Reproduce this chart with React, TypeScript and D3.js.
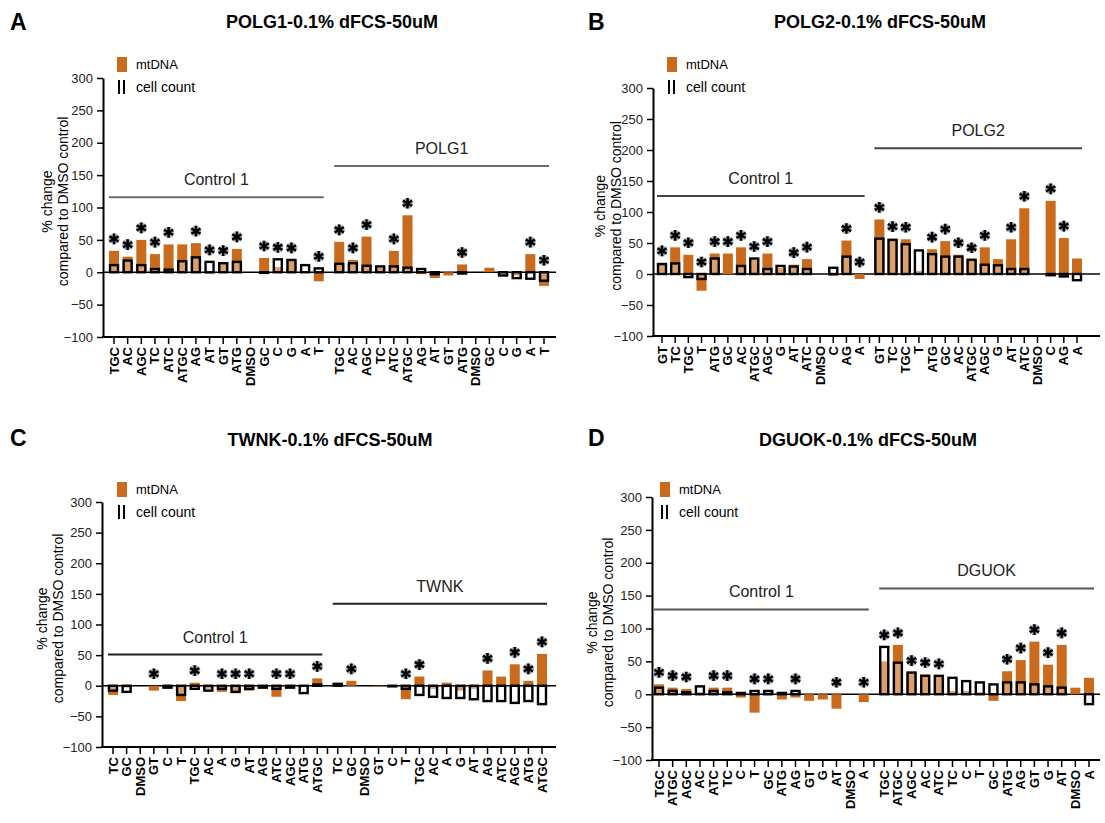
import React, { useEffect, useRef } from "react";
import * as d3 from "d3";

// x labels (one group, repeated for control and knockdown)
const labelsA = ["TGC", "AC", "AGC", "TC", "ATC", "ATGC", "AG", "AT", "GT", "ATG", "DMSO", "GC", "C", "G", "A", "T"];
const labelsB = ["GT", "TC", "TGC", "T", "ATG", "GC", "AC", "ATGC", "AGC", "G", "AT", "ATC", "DMSO", "C", "AG", "A"];
const labelsC = ["TC", "GC", "DMSO", "GT", "C", "T", "TGC", "AC", "A", "G", "AT", "AG", "ATC", "AGC", "ATG", "ATGC"];
const labelsD = ["TGC", "ATGC", "AGC", "AC", "ATC", "TC", "C", "T", "GC", "ATG", "AG", "GT", "G", "AT", "DMSO", "A"];

// % change vs DMSO: mtDNA, cell count, significance
const mtA = [33, 24, 50, 28, 43, 43, 45, -2, 15, 36, 0, 22, 8, 18, 2, -14,
  47, 19, 55, 7, 33, 88, -3, -9, -5, 12, 0, 7, -3, -5, 28, -21];
const cellA = [11, 18, 11, 5, 4, 17, 23, 16, 14, 16, 0, -1, 20, 19, 11, 6,
  13, 14, 10, 9, 9, 7, 5, -3, 0, -2, 0, 0, -5, -9, -10, -13];
const starA = [1, 1, 1, 1, 1, 0, 1, 1, 1, 1, 0, 1, 1, 1, 0, 1,
  1, 1, 1, 0, 1, 1, 0, 0, 0, 1, 0, 0, 0, 0, 1, 1];

const mtB = [18, 43, 31, -27, 33, 33, 43, 25, 33, 10, 15, 24, 0, -3, 54, -8,
  88, 57, 56, 5, 40, 53, 31, 21, 43, 24, 56, 106, 0, 118, 58, 25];
const cellB = [16, 17, -5, -8, 25, 0, 13, 25, 8, 13, 12, 8, 0, 10, 28, 0,
  57, 55, 48, 38, 32, 28, 28, 23, 15, 14, 8, 8, 0, -2, -4, -10];
const starB = [1, 1, 1, 1, 1, 1, 1, 1, 1, 0, 1, 1, 0, 0, 1, 1,
  1, 1, 1, 0, 1, 1, 1, 1, 1, 0, 1, 1, 0, 1, 1, 0];

const mtC = [-15, -3, 0, -8, -5, -25, 5, -5, -10, -12, -8, -5, -18, -5, 0, 12,
  5, 8, 0, -1, -2, -22, 15, -5, 5, -8, -5, 25, 15, 35, 8, 52];
const cellC = [-8, -10, 0, 0, -3, -15, -5, -8, -5, -10, -5, -3, -5, -3, -12, 2,
  3, 0, 0, 0, -1, -5, -15, -18, -20, -20, -22, -25, -25, -28, -25, -30];
const starC = [0, 0, 0, 1, 0, 0, 1, 0, 1, 1, 1, 0, 1, 1, 0, 1,
  0, 1, 0, 0, 0, 1, 1, 0, 0, 0, 0, 1, 0, 1, 1, 1];

const mtD = [15, 10, 8, 3, 10, 10, -5, -28, 3, -8, -5, -10, -8, -22, 0, -12,
  50, 75, 33, 30, 28, 5, 5, 3, -10, 35, 52, 80, 45, 75, 10, 25];
const cellD = [10, 5, 3, 12, 5, 3, 2, 5, 5, 2, 5, 0, 0, 0, 0, 0,
  72, 48, 33, 28, 28, 25, 20, 18, 15, 18, 18, 15, 12, 10, 0, -15];
const starD = [1, 1, 1, 0, 1, 1, 0, 1, 1, 0, 1, 0, 0, 1, 0, 1,
  1, 1, 1, 1, 1, 0, 0, 0, 0, 1, 1, 1, 1, 1, 0, 0];

const yTicks = [-100, -50, 0, 50, 100, 150, 200, 250, 300];

const ORANGE = "#c96a1d";
const FONT = "'Liberation Sans', Arial, sans-serif";

const panels = [
  { letter: "A", title: "POLG1-0.1% dFCS-50uM", lx: 10, ly: 30, tx: 332, ty: 28,
    axisX: 103, xEnd: 556, yTop: 78, yBottom: 337, xFirst: 114, xLast: 544,
    groups: ["Control 1", "POLG1"], bracket: [116, 164], legX: 117, legY: 57, ytX: 52,
    labels: labelsA, mt: mtA, cell: cellA, star: starA, bracketColor: "#6b6b6b" },
  { letter: "B", title: "POLG2-0.1% dFCS-50uM", lx: 588, ly: 30, tx: 880, ty: 28,
    axisX: 653, xEnd: 1100, yTop: 88, yBottom: 336, xFirst: 662, xLast: 1077,
    groups: ["Control 1", "POLG2"], bracket: [126, 203], legX: 667, legY: 57, ytX: 605,
    labels: labelsB, mt: mtB, cell: cellB, star: starB, bracketColor: "#444" },
  { letter: "C", title: "TWNK-0.1% dFCS-50uM", lx: 10, ly: 446, tx: 330, ty: 446,
    axisX: 102, xEnd: 556, yTop: 502, yBottom: 747, xFirst: 113, xLast: 542,
    groups: ["Control 1", "TWNK"], bracket: [51, 134], legX: 117, legY: 482, ytX: 47,
    labels: labelsC, mt: mtC, cell: cellC, star: starC, bracketColor: "#222" },
  { letter: "D", title: "DGUOK-0.1% dFCS-50uM", lx: 588, ly: 446, tx: 868, ty: 446,
    axisX: 652, xEnd: 1100, yTop: 497, yBottom: 760, xFirst: 659, xLast: 1089,
    groups: ["Control 1", "DGUOK"], bracket: [129, 161], legX: 660, legY: 482, ytX: 597,
    labels: labelsD, mt: mtD, cell: cellD, star: starD, bracketColor: "#555" },
];

function drawPanel(svg, p) {
  const g = svg.append("g").attr("font-family", FONT);
  const n = p.labels.length;
  const pos = (i) => (i < n ? i : i + 0.5);
  const x = d3.scaleLinear().domain([0, 2 * n - 0.5]).range([p.xFirst, p.xLast]);
  const y = d3.scaleLinear().domain([-100, 300]).range([p.yBottom, p.yTop]);
  const labels = p.labels.concat(p.labels);
  const bw = 10;

  // letter + title
  g.append("text").attr("x", p.lx).attr("y", p.ly).text(p.letter)
    .attr("font-size", 23).attr("font-weight", "bold");
  g.append("text").attr("x", p.tx).attr("y", p.ty).text(p.title)
    .attr("text-anchor", "middle").attr("font-size", 18).attr("font-weight", "bold");

  // y axis
  const yAxis = g.append("g").attr("transform", "translate(" + p.axisX + ",0)")
    .call(d3.axisLeft(y).tickValues(yTicks).tickSize(6).tickPadding(4).tickSizeOuter(0));
  yAxis.select(".domain").attr("stroke-width", 2);
  yAxis.selectAll(".tick line").attr("stroke-width", 1.5);
  yAxis.selectAll(".tick text").attr("font-size", 13).attr("font-family", FONT).attr("fill", "#222");

  // y title
  const ymid = (p.yTop + p.yBottom) / 2 - 6;
  g.append("text").attr("transform", "translate(" + p.ytX + "," + ymid + ") rotate(-90)")
    .attr("text-anchor", "middle").attr("font-size", 14).text("% change");
  g.append("text").attr("transform", "translate(" + (p.ytX + 16) + "," + ymid + ") rotate(-90)")
    .attr("text-anchor", "middle").attr("font-size", 14).text("compared to DMSO control");

  // x axis line at -100 with ticks and rotated labels
  g.append("line").attr("x1", p.axisX - 1).attr("x2", p.xEnd)
    .attr("y1", y(-100)).attr("y2", y(-100)).attr("stroke", "#000").attr("stroke-width", 2);
  const tickPos = labels.map((d, i) => x(pos(i)));
  tickPos.push(x(n - 0.25));
  g.selectAll(".xtick").data(tickPos).enter().append("line")
    .attr("x1", (d) => d).attr("x2", (d) => d)
    .attr("y1", y(-100)).attr("y2", y(-100) + 7)
    .attr("stroke", "#000").attr("stroke-width", 1.5);
  g.selectAll(".xlab").data(labels).enter().append("text")
    .attr("transform", (d, i) => "translate(" + (x(pos(i)) + 4.5) + "," + (y(-100) + 10) + ") rotate(-90)")
    .attr("text-anchor", "end").attr("font-size", 13).attr("font-weight", "bold")
    .text((d) => d);

  // zero line
  g.append("line").attr("x1", p.axisX).attr("x2", p.xEnd)
    .attr("y1", y(0)).attr("y2", y(0)).attr("stroke", "#000").attr("stroke-width", 1.6);

  // mtDNA bars
  g.selectAll(".mt").data(p.mt).enter().append("rect")
    .attr("x", (d, i) => x(pos(i)) - bw / 2)
    .attr("y", (d) => y(Math.max(0, d)))
    .attr("width", bw)
    .attr("height", (d) => Math.abs(y(d) - y(0)))
    .attr("fill", ORANGE);

  // cell count bars (open, drawn over the mtDNA bars)
  const cells = p.cell.map((v, i) => ({ v, i })).filter((d) => d.v !== 0);
  g.selectAll(".cell").data(cells).enter().append("rect")
    .attr("x", (d) => x(pos(d.i)) - bw / 2 + 1)
    .attr("y", (d) => y(Math.max(0, d.v)))
    .attr("width", bw - 2)
    .attr("height", (d) => Math.abs(y(d.v) - y(0)))
    .attr("fill", "rgba(255,255,255,0.35)")
    .attr("stroke", "#000").attr("stroke-width", 2.4);

  // significance stars
  const star = d3.symbol().type(d3.symbolAsterisk).size(80);
  const starY = (i) => y(Math.max(0, p.mt[i], p.cell[i])) - 12;
  const idx = p.star.map((s, i) => (s ? i : -1)).filter((i) => i >= 0);
  g.selectAll(".halo").data(idx).enter().append("path")
    .attr("d", star).attr("transform", (i) => "translate(" + x(pos(i)) + "," + starY(i) + ")")
    .attr("fill", "none").attr("stroke", "#9aa3b0").attr("stroke-width", 4.5);
  g.selectAll(".star").data(idx).enter().append("path")
    .attr("d", star).attr("transform", (i) => "translate(" + x(pos(i)) + "," + starY(i) + ")")
    .attr("fill", "none").attr("stroke", "#000").attr("stroke-width", 2.4);

  // group brackets
  [0, 1].forEach((k) => {
    const x1 = x(pos(k * n)) - 5;
    const x2 = x(pos(k * n + n - 1)) + 5;
    const yy = y(p.bracket[k]);
    g.append("line").attr("x1", x1).attr("x2", x2).attr("y1", yy).attr("y2", yy)
      .attr("stroke", p.bracketColor).attr("stroke-width", 2);
    g.append("text").attr("x", (x1 + x2) / 2).attr("y", yy - 12)
      .attr("text-anchor", "middle").attr("font-size", 16).attr("fill", "#222")
      .text(p.groups[k]);
  });

  // legend
  g.append("rect").attr("x", p.legX).attr("y", p.legY).attr("width", 10).attr("height", 15).attr("fill", ORANGE);
  g.append("text").attr("x", p.legX + 19).attr("y", p.legY + 12).attr("font-size", 13).text("mtDNA");
  [2, 7].forEach((dx) => {
    g.append("line").attr("x1", p.legX + dx).attr("x2", p.legX + dx)
      .attr("y1", p.legY + 23).attr("y2", p.legY + 37).attr("stroke", "#000").attr("stroke-width", 2);
  });
  g.append("text").attr("x", p.legX + 19).attr("y", p.legY + 35).attr("font-size", 14).text("cell count");
}

export default function App() {
  const ref = useRef(null);
  useEffect(() => {
    const svg = d3.select(ref.current);
    svg.selectAll("*").remove();
    panels.forEach((p) => drawPanel(svg, p));
  }, []);
  return (
    <svg ref={ref} width={1105} height={823}
      style={{ position: "absolute", left: 0, top: 0, background: "#fff" }} />
  );
}
